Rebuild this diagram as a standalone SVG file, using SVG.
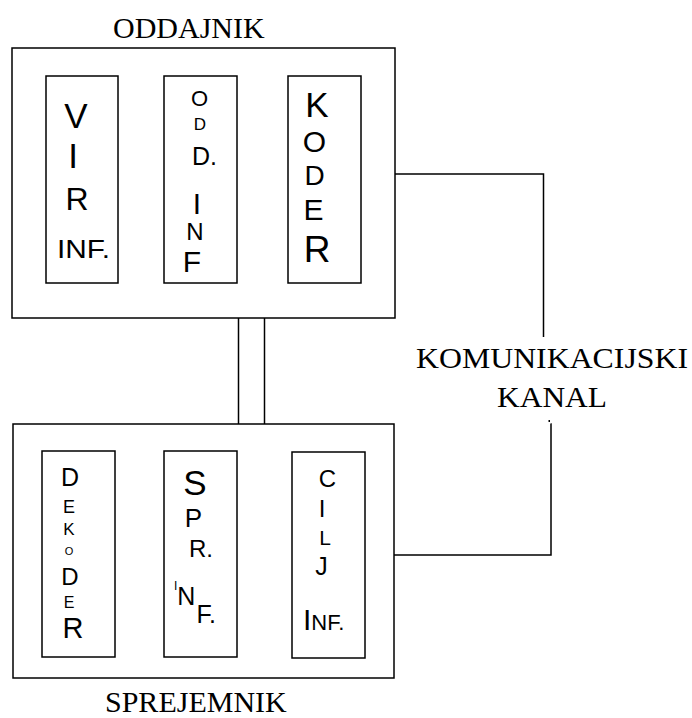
<svg xmlns="http://www.w3.org/2000/svg" width="692" height="718" viewBox="0 0 692 718">
<style>
.box{fill:none;stroke:#000;stroke-width:1.5}
.ln{fill:none;stroke:#000;stroke-width:1.5}
.lbl{font-family:"Liberation Serif","Times New Roman",serif;font-size:30px;fill:#000}
.h{font-family:"Liberation Sans",Arial,sans-serif;fill:#000;text-anchor:middle}
.hs{font-family:"Liberation Sans",Arial,sans-serif;fill:#000}
</style>
<rect width="692" height="718" fill="#fff"/>
<g id="connectors">
<line class="ln" x1="238.5" y1="318" x2="238.5" y2="424"/>
<line class="ln" x1="264.5" y1="318" x2="264.5" y2="424"/>
<polyline class="ln" points="395,174 543.5,174 543.5,337"/>
<polyline class="ln" points="550.5,424 551,424 551,555 394,555"/>
<rect x="548.5" y="420" width="1.5" height="2" fill="#000"/>
</g>
<g id="oddajnik">
<rect class="box" x="12" y="48" width="383" height="270"/>
<text class="lbl" x="113" y="38">ODDAJNIK</text>
</g>
<g id="vir-inf">
<rect class="box" x="46" y="76" width="72" height="207"/>
<text class="h" x="76" y="128" font-size="35">V</text>
<text class="h" x="73" y="168" font-size="35">I</text>
<text class="h" x="77" y="210" font-size="32">R</text>
<text class="hs" x="57" y="258" font-size="25" textLength="53" lengthAdjust="spacingAndGlyphs">INF.</text>
</g>
<g id="odd-inf">
<rect class="box" x="164" y="76" width="73" height="207"/>
<text class="h" x="199.5" y="106" font-size="22">O</text>
<text class="h" x="200" y="130" font-size="17">D</text>
<text class="hs" x="192" y="165" font-size="25">D.</text>
<text class="h" x="197" y="214" font-size="30">I</text>
<text class="h" x="195" y="240" font-size="24">N</text>
<text class="h" x="192" y="272" font-size="30">F</text>
</g>
<g id="koder">
<rect class="box" x="288" y="76" width="73" height="207"/>
<text class="h" x="317" y="117" font-size="35">K</text>
<text class="h" x="314.5" y="152" font-size="30">O</text>
<text class="h" x="314.5" y="185" font-size="28">D</text>
<text class="h" x="313.5" y="220" font-size="30">E</text>
<text class="h" x="317" y="262" font-size="37">R</text>
</g>
<g id="kanal">
<text class="lbl" x="416" y="368" textLength="272" lengthAdjust="spacingAndGlyphs">KOMUNIKACIJSKI</text>
<text class="lbl" x="497" y="407" textLength="110" lengthAdjust="spacingAndGlyphs">KANAL</text>
</g>
<g id="sprejemnik">
<rect class="box" x="13" y="424" width="381" height="254"/>
<text class="lbl" x="105" y="712">SPREJEMNIK</text>
</g>
<g id="dekoder">
<rect class="box" x="42" y="451" width="73" height="206"/>
<text class="h" x="70" y="486" font-size="25">D</text>
<text class="h" x="69" y="513" font-size="18">E</text>
<text class="h" x="69" y="535" font-size="17">K</text>
<text class="h" x="69" y="555" font-size="11">O</text>
<text class="h" x="70" y="585" font-size="24">D</text>
<text class="h" x="69" y="608" font-size="16">E</text>
<text class="h" x="73" y="638" font-size="29">R</text>
</g>
<g id="spr-inf">
<rect class="box" x="164" y="451" width="73" height="206"/>
<text class="h" x="195" y="495" font-size="35">S</text>
<text class="h" x="193.5" y="527" font-size="26">P</text>
<text class="hs" x="189" y="557" font-size="24">R.</text>
<text class="hs" x="174" y="590" font-size="12">I<tspan font-size="25" dy="15">N</tspan><tspan font-size="25" dx="1" dy="18">F.</tspan></text>
</g>
<g id="cilj-inf">
<rect class="box" x="292" y="452" width="73" height="206"/>
<text class="h" x="327.5" y="487" font-size="24">C</text>
<text class="h" x="322" y="517" font-size="24">I</text>
<text class="h" x="325" y="545" font-size="21">L</text>
<text class="h" x="321.5" y="575" font-size="25">J</text>
<text class="hs" x="303" y="630" font-size="22"><tspan font-size="30">I</tspan>NF.</text>
</g>
</svg>
